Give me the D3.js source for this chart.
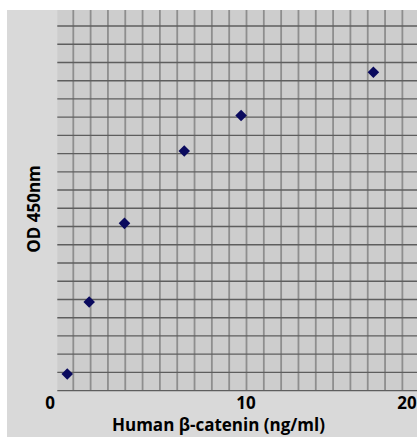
<!DOCTYPE html>
<html>
<head>
<meta charset="utf-8">
<script src="https://cdn.jsdelivr.net/npm/d3@7"></script>
<style>
  body { margin: 0; background: #fff; }
  text { font-family: "Open Sans", sans-serif; font-weight: 700; fill: #000; }
</style>
</head>
<body>
<div id="chart"></div>
<script>
// Standard curve data
var concentration = [0.88, 2.0, 3.8, 6.85, 9.75, 16.5];   // ng/ml
var od450 = [0.134, 0.70, 1.32, 1.89, 2.17, 2.51];
var xTicks = [0, 10, 20];

var width = 417, height = 437;

var svg = d3.select('#chart')
    .append('svg')
    .attr('width', width)
    .attr('height', height);

// chart area (grey)
svg.append('rect')
    .attr('x', 7).attr('y', 10)
    .attr('width', width - 7).attr('height', height - 10)
    .attr('fill', '#d9d9d9');

// plot area
var plot = { left: 57.3, top: 10, right: 417, bottom: 390.7 };

svg.append('rect')
    .attr('x', plot.left).attr('y', plot.top)
    .attr('width', plot.right - plot.left)
    .attr('height', plot.bottom - plot.top)
    .attr('fill', '#cdcdcd');

// scales
const xScale = d3.scaleLinear()
    .domain([0, 20])
    .range([50, 442]);

const yScale = d3.scaleLinear()
    .domain([0, 3])
    .range([391, 10]);

// graph-paper fill of the plot area (decorative, not tied to data)
var grid = svg.append('g').attr('class', 'grid');

grid.selectAll('.v')
    .data(d3.range(73.3, plot.right, 17.32))
    .enter()
    .append('line')
        .attr('class', 'v')
        .attr('x1', d => d).attr('x2', d => d)
        .attr('y1', plot.top).attr('y2', plot.bottom)
        .attr('stroke', '#8e8e8e')
        .attr('stroke-width', 1.8);

grid.selectAll('.h')
    .data(d3.range(26, plot.bottom + 1, 18.23))
    .enter()
    .append('line')
        .attr('class', 'h')
        .attr('x1', plot.left).attr('x2', plot.right)
        .attr('y1', d => d).attr('y2', d => d)
        .attr('stroke', '#5e5e5e')
        .attr('stroke-width', 1.4);

// x axis labels (last one pulled inside the chart like Excel does)
const xAxis = svg.append('g')
    .attr('transform', 'translate(0, 409)')
    .call(d3.axisBottom(xScale).tickValues(xTicks).tickSize(0).tickPadding(0));

xAxis.select('.domain').remove();
xAxis.selectAll('.tick')
    .attr('transform', d => 'translate(' + Math.min(xScale(d), 407) + ',0)');
xAxis.selectAll('text')
    .attr('dy', 0)
    .attr('y', 0)
    .style('font-family', '"Open Sans", sans-serif')
    .style('font-weight', 700)
    .style('font-size', '17px')
    .attr('fill', '#000');

// points
svg.append('g')
    .selectAll('path')
    .data(concentration)
    .enter()
    .append('path')
        .attr('d', d3.symbol(d3.symbolDiamond2, 85))
        .attr('transform', (d, i) => 'translate(' + xScale(d) + ',' + yScale(od450[i]) + ')')
        .attr('fill', '#0a0a5e');

// axis titles
svg.append('text')
    .attr('x', 218.5)
    .attr('y', 431)
    .attr('text-anchor', 'middle')
    .style('font-size', '17px')
    .text('Human β-catenin (ng/ml)');

svg.append('text')
    .attr('transform', 'translate(40, 209) rotate(-90)')
    .attr('text-anchor', 'middle')
    .style('font-size', '17px')
    .text('OD 450nm');
</script>
</body>
</html>
